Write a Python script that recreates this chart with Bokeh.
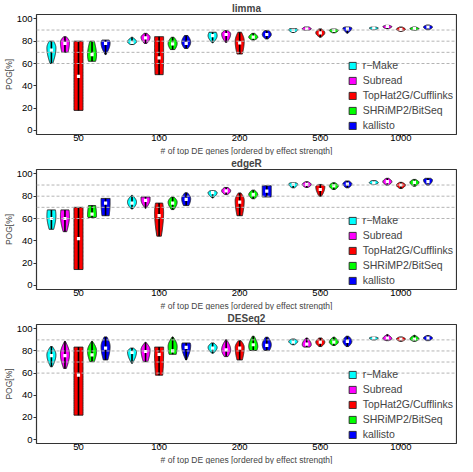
import numpy as np
from bokeh.plotting import figure
from bokeh.layouts import column
from bokeh.models import Range1d, Span, Legend, LegendItem, FixedTicker, ColumnDataSource, Title
from bokeh.embed import file_html
from bokeh.resources import INLINE

groups = ["50", "100", "200", "500", "1000"]
methods = ["r\u2212Make", "Subread", "TopHat2G/Cufflinks", "SHRiMP2/BitSeq", "kallisto"]
colors = ["#00FFFF", "#FF00FF", "#FF0000", "#00FF00", "#0000FF"]
panels = ["limma", "edgeR", "DESeq2"]
grid_levels = [60, 70, 80, 90]
x_label = "# of top DE genes [ordered by effect strength]"
y_label = "POG[%]"

# rows: methods (r-Make, Subread, TopHat2G, SHRiMP2, kallisto); cols: groups 50..1000
limma_lo = [[60, 77, 78.5, 87.8, 90.3], [70, 78, 79, 89.7, 91.2], [18, 50, 68.5, 83.6, 88.8],
            [62, 72.5, 81, 87.5, 89.7], [68, 73.5, 82, 87.2, 90.3]]
limma_hi = [[80, 83.5, 88, 91.2, 92.7], [84, 87, 89.5, 92.7, 94.2], [80, 84, 88, 91, 92.7],
            [80, 83.5, 87, 91, 92.7], [81, 85, 89.5, 92.7, 94.5]]
limma_peak = [[74, 79.5, 85, 90.3, 91.8], [79, 83.5, 86.5, 91, 93], [50, 68, 80, 87.5, 90.6],
              [67, 78, 83.5, 89.7, 91.2], [78.5, 79, 86, 91.8, 92.7]]
limma_med = [[72, 79, 85, 89.7, 91.8], [78, 83, 86, 91, 93.3], [48.5, 65, 78.4, 87.5, 90.6],
             [68, 77.5, 83.6, 89.7, 91.2], [78, 78, 86, 91, 92.7]]
limma_wb = [[0.3, 0.4, 0.1, 0.3, 0.3], [0.7, 0.3, 0.2, 0.4, 0.3], [1.0, 0.9, 0.6, 0.2, 0.3],
            [0.8, 0.5, 0.3, 0.3, 0.3], [0.1, 0.4, 0.3, 0.1, 0.3]]
limma_wt = [[0.5, 0.1, 0.8, 0.8, 0.4], [0.3, 0.3, 0.4, 0.5, 0.4], [1.0, 1.0, 0.4, 0.3, 0.3],
            [0.5, 0.3, 0.3, 0.4, 0.3], [0.8, 0.4, 0.5, 0.5, 0.3]]

edger_lo = [[50.3, 68.6, 78.4, 87.5, 90.5], [48.2, 69.2, 81.4, 87.8, 89.9], [14.3, 44.2, 62.5, 80, 86.9],
            [61, 68, 77.7, 86, 89], [62.5, 71.6, 79.3, 87.5, 89.9]]
edger_hi = [[67.7, 80.8, 84.8, 92, 93.9], [67.7, 79.3, 87.8, 93, 96], [70, 73.8, 82.9, 90.5, 92.4],
            [71.6, 79.3, 85.4, 92, 95], [78, 83, 89.3, 93.6, 96]]
edger_peak = [[62.5, 74.7, 83.2, 90.9, 92], [62.5, 77, 84.8, 90.5, 93], [42, 65.5, 76.2, 88.4, 90],
              [62, 74.7, 81.4, 89.3, 92.4], [74, 77.7, 84.5, 90.9, 94.5]]
edger_med = [[60, 73.8, 83.2, 90.5, 92], [60, 76.2, 84.8, 90.5, 93], [42, 62.5, 74.7, 86, 90],
             [64, 73.8, 81.7, 89.3, 92.4], [73.8, 77.1, 84.5, 90.9, 93]]
edger_wb = [[0.5, 0.2, 0.1, 0.3, 0.3], [0.4, 0.1, 0.3, 0.3, 0.3], [1.0, 0.5, 0.6, 0.3, 0.3],
            [0.9, 0.3, 0.3, 0.3, 0.3], [0.8, 0.6, 1.0, 0.3, 0.3]]
edger_wt = [[0.9, 0.1, 0.6, 0.6, 0.5], [0.9, 1.0, 0.4, 0.3, 0.3], [1.0, 0.8, 0.3, 0.4, 0.3],
            [0.8, 0.3, 0.3, 0.3, 0.3], [1.0, 0.3, 1.0, 0.4, 0.6]]

deseq_lo = [[65.7, 68.8, 78, 85.6, 89.9], [64.2, 70.3, 74.9, 83.5, 89.3], [22, 58.1, 71.9, 84, 88.7],
            [70.3, 77, 80.4, 85, 88.7], [71.9, 71.9, 80.4, 84, 89.3]]
deseq_hi = [[84, 82.6, 87.2, 90.8, 92.7], [88.7, 87.8, 90.2, 91.7, 94.8], [83.5, 83.5, 89.3, 91.7, 92.7],
            [88.7, 92.7, 93.3, 92.4, 94.2], [92.7, 87.2, 92.4, 93.3, 93.9]]
deseq_peak = [[76.5, 79.5, 83.2, 88.7, 91.7], [77, 81, 81, 85.6, 91], [58, 77, 83.2, 88, 90.8],
              [80, 84, 84, 88, 90.8], [84, 85, 85.6, 88.7, 91.7]]
deseq_med = [[75.8, 78.6, 82.6, 88, 91.7], [75.8, 79.5, 81, 86.2, 91.7], [58.1, 77, 82.6, 88, 90.8],
             [76.5, 80.1, 85.6, 88, 90.8], [82.6, 83.2, 85, 88.7, 91.7]]
deseq_wb = [[0.2, 0.1, 0.2, 0.3, 0.3], [0.3, 0.5, 0.4, 0.7, 0.3], [1.0, 0.8, 0.6, 0.3, 0.3],
            [0.5, 0.8, 0.8, 0.3, 0.3], [0.5, 0.1, 0.6, 0.3, 0.3]]
deseq_wt = [[0.2, 0.3, 0.3, 0.3, 0.3], [0.1, 0.1, 0.1, 0.2, 0.1], [1.0, 1.0, 0.3, 0.3, 0.3],
            [0.1, 0.1, 0.2, 0.2, 0.1], [0.3, 0.9, 0.3, 0.3, 0.3]]

panel_data = {
    "limma": (limma_lo, limma_hi, limma_peak, limma_med, limma_wb, limma_wt),
    "edgeR": (edger_lo, edger_hi, edger_peak, edger_med, edger_wb, edger_wt),
    "DESeq2": (deseq_lo, deseq_hi, deseq_peak, deseq_med, deseq_wb, deseq_wt),
}

FONT = "Liberation Sans"
DODGE = 0.168
HALF_W = 0.056


def outline(xc, lo, hi, peak, wb, wt, n=24):
    peak = min(max(peak, lo + 0.01), hi - 0.01)
    y1 = np.linspace(lo, peak, n)
    w1 = wb + (1 - wb) * np.sin((y1 - lo) / (peak - lo) * np.pi / 2)
    y2 = np.linspace(peak, hi, n)[1:]
    w2 = wt + (1 - wt) * np.sin((hi - y2) / (hi - peak) * np.pi / 2)
    ys = np.concatenate([y1, y2])
    ws = np.concatenate([w1, w2])
    xs = np.concatenate([xc + HALF_W * ws, (xc - HALF_W * ws)[::-1]])
    yy = np.concatenate([ys, ys[::-1]])
    return list(xs), list(yy)


def make_panel(name, height):
    lo, hi, pk, md, wb, wt = panel_data[name]
    p = figure(width=457, height=height, output_backend="svg", toolbar_location=None,
               x_range=Range1d(0.479, 5.69), y_range=Range1d(-3.6, 103.9),
               min_border_left=0, min_border_right=1, min_border_top=0, min_border_bottom=0)
    p.title.text = name
    p.title.align = "center"
    p.title.text_font = FONT
    p.title.text_font_size = "10px"
    p.title.text_font_style = "bold"
    p.title.standoff = 1
    p.title.offset = 0
    p.add_layout(Title(text=x_label, align="center", text_font=FONT, text_font_size="8.5px",
                       text_font_style="normal", standoff=0, offset=0), "below")
    p.xgrid.visible = False
    p.ygrid.visible = False
    p.outline_line_color = "#333333"
    p.outline_line_width = 1.2
    p.background_fill_color = "white"

    for lv in grid_levels:
        p.add_layout(Span(location=lv, dimension="width", line_color="#b4b4b4",
                          line_dash="3 2", line_width=1))

    legend_items = []
    for mi, (m, c) in enumerate(zip(methods, colors)):
        xs_all, ys_all = [], []
        seg = dict(x=[], y0=[], y1=[], ym=[])
        for gi in range(len(groups)):
            xc = gi + 1 + (mi - 2) * DODGE
            xs, ys = outline(xc, lo[mi][gi], hi[mi][gi], pk[mi][gi], wb[mi][gi], wt[mi][gi])
            xs_all.append(xs)
            ys_all.append(ys)
            seg["x"].append(xc)
            seg["y0"].append(lo[mi][gi])
            seg["y1"].append(hi[mi][gi])
            seg["ym"].append(md[mi][gi])
        r = p.patches(xs_all, ys_all, fill_color=c, line_color="#222222", line_width=0.9)
        src = ColumnDataSource(seg)
        p.segment(x0="x", y0="y0", x1="x", y1="y1", source=src, line_color="black", line_width=1.6)
        p.scatter(x="x", y="ym", source=src, marker="square", size=3.2,
                  fill_color="white", line_color=None)
        legend_items.append(LegendItem(label=m, renderers=[r], index=0))

    legend = Legend(items=legend_items, location="bottom_right")
    legend.label_text_font = FONT
    legend.label_text_font_size = "10.5px"
    legend.glyph_width = 9
    legend.glyph_height = 9
    legend.label_height = 10
    legend.label_standoff = 6
    legend.spacing = 3
    legend.padding = 2
    legend.margin = 3
    legend.border_line_color = None
    legend.background_fill_alpha = 0
    p.add_layout(legend)

    p.xaxis.ticker = FixedTicker(ticks=[1, 2, 3, 4, 5])
    p.xaxis.major_label_overrides = {i + 1: g for i, g in enumerate(groups)}
    p.yaxis.ticker = FixedTicker(ticks=[0, 20, 40, 60, 80, 100])
    p.yaxis.axis_label = y_label
    for ax in (p.xaxis, p.yaxis):
        ax.axis_line_color = None
        ax.major_tick_line_color = "#333333"
        ax.major_tick_out = 3
        ax.major_tick_in = 0
        ax.minor_tick_line_color = None
        ax.major_label_text_font = FONT
        ax.major_label_text_font_size = "9.5px"
        ax.major_label_text_color = "black"
        ax.axis_label_text_font = FONT
        ax.axis_label_text_font_size = "8.5px"
        ax.axis_label_text_font_style = "normal"
    p.xaxis.major_label_standoff = -3
    p.yaxis.major_label_standoff = 1
    p.yaxis.axis_label_standoff = 0
    return p


heights = [155, 155, 154]
figs = [make_panel(n, h) for n, h in zip(panels, heights)]
layout = column(*figs, spacing=0)
open("out.html", "w").write(file_html(layout, INLINE))
